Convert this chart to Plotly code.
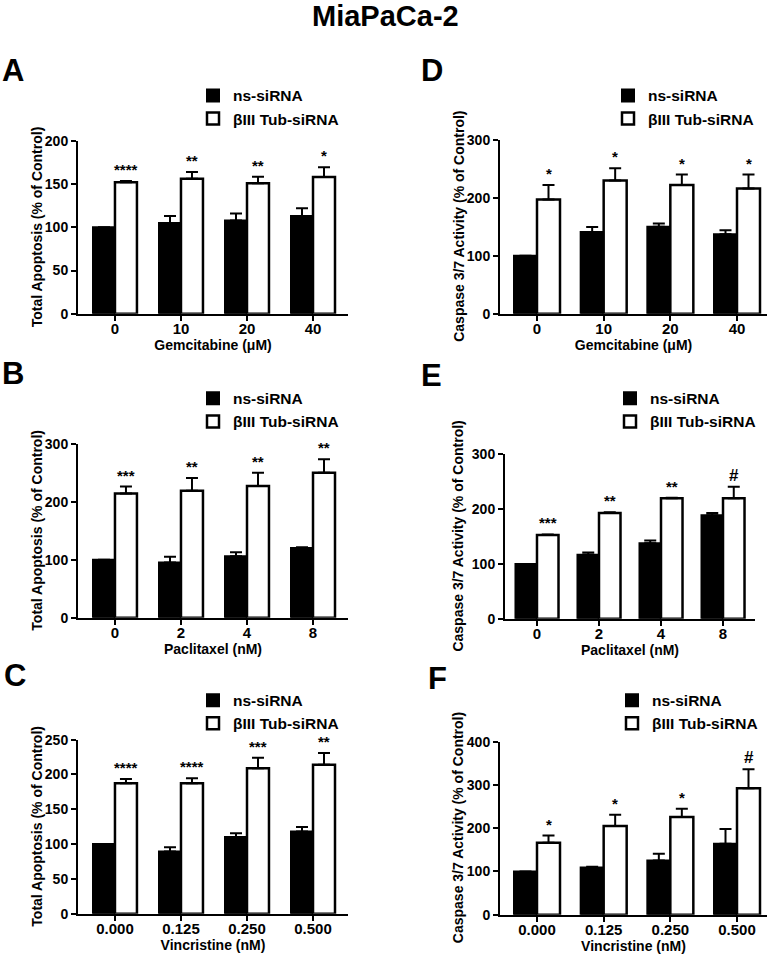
import plotly.graph_objects as go

FONT = "Liberation Sans, Arial, sans-serif"
W, H = 771, 964

# ---------------- data ----------------
gem_labels = ["0", "10", "20", "40"]
pac_labels = ["0", "2", "4", "8"]
vin_labels = ["0.000", "0.125", "0.250", "0.500"]

series_names = ["ns-siRNA", "βIII Tub-siRNA"]

A_ns = [100, 105, 108, 113]
A_ns_err = [0, 8, 8, 9]
A_tub = [152, 156, 151, 158]
A_tub_err = [1.5, 8, 7.5, 11.5]
A_sig = ["****", "**", "**", "*"]

D_ns = [100, 141, 150, 137]
D_ns_err = [0, 8.5, 5.5, 7]
D_tub = [197, 230, 222, 216]
D_tub_err = [25, 21, 18, 24]
D_sig = ["*", "*", "*", "*"]

B_ns = [100, 95, 106, 120]
B_ns_err = [0, 10, 7, 1.5]
B_tub = [214, 219, 227, 250]
B_tub_err = [12, 22, 23, 23]
B_sig = ["***", "**", "**", "**"]

E_ns = [100, 117, 138, 189]
E_ns_err = [0, 4, 5, 4]
E_tub = [153, 193, 220, 220]
E_tub_err = [1, 1.5, 1, 21]
E_sig = ["***", "**", "**", "#"]

C_ns = [100, 89.5, 110, 118]
C_ns_err = [0, 6, 5.5, 6.5]
C_tub = [187.5, 187.5, 209, 214]
C_tub_err = [6, 7, 15, 17]
C_sig = ["****", "****", "***", "**"]

F_ns = [100, 109, 125, 164]
F_ns_err = [0, 2, 16, 34]
F_tub = [166, 205, 226, 292]
F_tub_err = [17, 26, 19, 44]
F_sig = ["*", "*", "*", "#"]

apop_title = "Total Apoptosis (% of Control)"
casp_title = "Caspase 3/7 Activity (% of Control)"

panels = [
    dict(letter="A", cats=gem_labels, xtitle="Gemcitabine (μM)", ytitle=apop_title,
         ns=A_ns, nse=A_ns_err, tub=A_tub, tube=A_tub_err, sig=A_sig,
         ymax=200, dtick=50, px=(78, 348), py=(135, 311), xr=(-0.56, 3.53), bw=0.333,
         leg=(233, 95), lett=(13, 72), ytx=37),
    dict(letter="B", cats=pac_labels, xtitle="Paclitaxel (nM)", ytitle=apop_title,
         ns=B_ns, nse=B_ns_err, tub=B_tub, tube=B_tub_err, sig=B_sig,
         ymax=300, dtick=100, px=(78, 348), py=(443, 620), xr=(-0.56, 3.53), bw=0.333,
         leg=(233, 403), lett=(13, 380), ytx=37),
    dict(letter="C", cats=vin_labels, xtitle="Vincristine (nM)", ytitle=apop_title,
         ns=C_ns, nse=C_ns_err, tub=C_tub, tube=C_tub_err, sig=C_sig,
         ymax=250, dtick=50, px=(78, 348), py=(744, 921), xr=(-0.56, 3.53), bw=0.333,
         leg=(233, 710), lett=(15, 687), ytx=37),
    dict(letter="D", cats=gem_labels, xtitle="Gemcitabine (μM)", ytitle=casp_title,
         ns=D_ns, nse=D_ns_err, tub=D_tub, tube=D_tub_err, sig=D_sig,
         ymax=300, dtick=100, px=(500, 767), py=(134, 311), xr=(-0.555, 3.45), bw=0.345,
         leg=(648, 95), lett=(432, 72), ytx=459),
    dict(letter="E", cats=pac_labels, xtitle="Paclitaxel (nM)", ytitle=casp_title,
         ns=E_ns, nse=E_ns_err, tub=E_tub, tube=E_tub_err, sig=E_sig,
         ymax=300, dtick=100, px=(505, 755), py=(454, 621), xr=(-0.516, 3.516), bw=0.347,
         leg=(650, 403), lett=(431, 382), ytx=458),
    dict(letter="F", cats=vin_labels, xtitle="Vincristine (nM)", ytitle=casp_title,
         ns=F_ns, nse=F_ns_err, tub=F_tub, tube=F_tub_err, sig=F_sig,
         ymax=400, dtick=100, px=(500, 767), py=(746, 922), xr=(-0.555, 3.45), bw=0.345,
         leg=(652, 710), lett=(437, 690), ytx=458),
]

fig = go.Figure()
layout = dict(
    width=W, height=H,
    margin=dict(l=0, r=0, t=0, b=0),
    paper_bgcolor="white", plot_bgcolor="white",
    font=dict(family=FONT, color="black", size=14, weight="bold"),
    showlegend=True,
    annotations=[],
)

layout["annotations"].append(dict(
    text="<b>MiaPaCa-2</b>", x=385 / W, y=1 - 8 / H, xref="paper", yref="paper",
    xanchor="center", yanchor="middle", showarrow=False,
    font=dict(size=29, family=FONT, color="black")))

for i, p in enumerate(panels):
    n = i + 1
    xa = "x" if n == 1 else f"x{n}"
    ya = "y" if n == 1 else f"y{n}"
    leg = "legend" if n == 1 else f"legend{n}"
    idx = list(range(len(p["cats"])))
    bw = p["bw"]

    fig.add_trace(go.Bar(
        x=idx, y=p["ns"], name=series_names[0], xaxis=xa, yaxis=ya, legend=leg,
        legendgroup=f"g{n}a", width=bw, offset=-bw,
        marker=dict(color="black", line=dict(color="black", width=2)),
        error_y=dict(type="data", symmetric=False, array=p["nse"], arrayminus=[0] * 4,
                     color="black", thickness=2, width=6),
        hoverinfo="skip"))
    fig.add_trace(go.Bar(
        x=idx, y=p["tub"], name=series_names[1], xaxis=xa, yaxis=ya, legend=leg,
        legendgroup=f"g{n}b", width=bw, offset=0,
        marker=dict(color="white", line=dict(color="black", width=2.5)),
        error_y=dict(type="data", symmetric=False, array=p["tube"], arrayminus=[0] * 4,
                     color="black", thickness=2, width=6),
        hoverinfo="skip"))

    axk = "xaxis" if n == 1 else f"xaxis{n}"
    ayk = "yaxis" if n == 1 else f"yaxis{n}"
    layout[axk] = dict(
        domain=[p["px"][0] / W, p["px"][1] / W], anchor=ya,
        range=list(p["xr"]), tickmode="array", tickvals=idx, ticktext=p["cats"],
        showline=True, linewidth=2, linecolor="black", ticks="outside", ticklen=5,
        tickwidth=2, tickcolor="black", showgrid=False, zeroline=False,
        ticklabelstandoff=-5, automargin=True,
        tickfont=dict(size=15, family=FONT, color="black", weight="bold"),
        title=dict(text=p["xtitle"], standoff=2,
                   font=dict(size=14, family=FONT, color="black", weight="bold")),
        fixedrange=True)
    layout[ayk] = dict(
        domain=[1 - p["py"][1] / H, 1 - p["py"][0] / H], anchor=xa,
        range=[0, p["ymax"]], tick0=0, dtick=p["dtick"],
        showline=True, linewidth=2, linecolor="black", ticks="outside", ticklen=5,
        tickwidth=2, tickcolor="black", showgrid=False, zeroline=False,
        tickfont=dict(size=14, family=FONT, color="black", weight="bold"),
        fixedrange=True)

    # y-axis title, vertical, centred on the plot height
    layout["annotations"].append(dict(
        text=p["ytitle"], textangle=-90,
        x=p["ytx"] / W, y=1 - (p["py"][0] + p["py"][1]) / 2 / H,
        xref="paper", yref="paper", xanchor="center", yanchor="middle", showarrow=False,
        font=dict(size=14, family=FONT, color="black", weight="bold")))

    layout[leg] = dict(
        x=(p["leg"][0] - 40) / W, y=1 - (p["leg"][1] - 23) / H,
        xanchor="left", yanchor="top", bgcolor="rgba(0,0,0,0)", borderwidth=0,
        font=dict(size=15.5, family=FONT, color="black", weight="bold"),
        traceorder="grouped", tracegroupgap=0,
        itemclick=False, itemdoubleclick=False)

    # significance marks above the knockdown bars
    for j, s in enumerate(p["sig"]):
        is_hash = s == "#"
        layout["annotations"].append(dict(
            text=s, x=j + bw / 2, y=p["tub"][j] + p["tube"][j], xref=xa, yref=ya,
            xanchor="center", yanchor="bottom", showarrow=False,
            yshift=0 if is_hash else 1,
            font=dict(size=17 if is_hash else 15, family=FONT, color="black", weight="bold")))

    # panel letter
    layout["annotations"].append(dict(
        text=p["letter"], x=p["lett"][0] / W, y=1 - (p["lett"][1] - 8) / H,
        xref="paper", yref="paper", xanchor="center", yanchor="middle", showarrow=False,
        font=dict(size=31, family=FONT, color="black", weight="bold")))

fig.update_layout(**layout)
fig.write_html(
    "out.html",
    config={"displayModeBar": False},
    post_script="document.body.style.margin='0';document.body.style.overflow='hidden';",
)
